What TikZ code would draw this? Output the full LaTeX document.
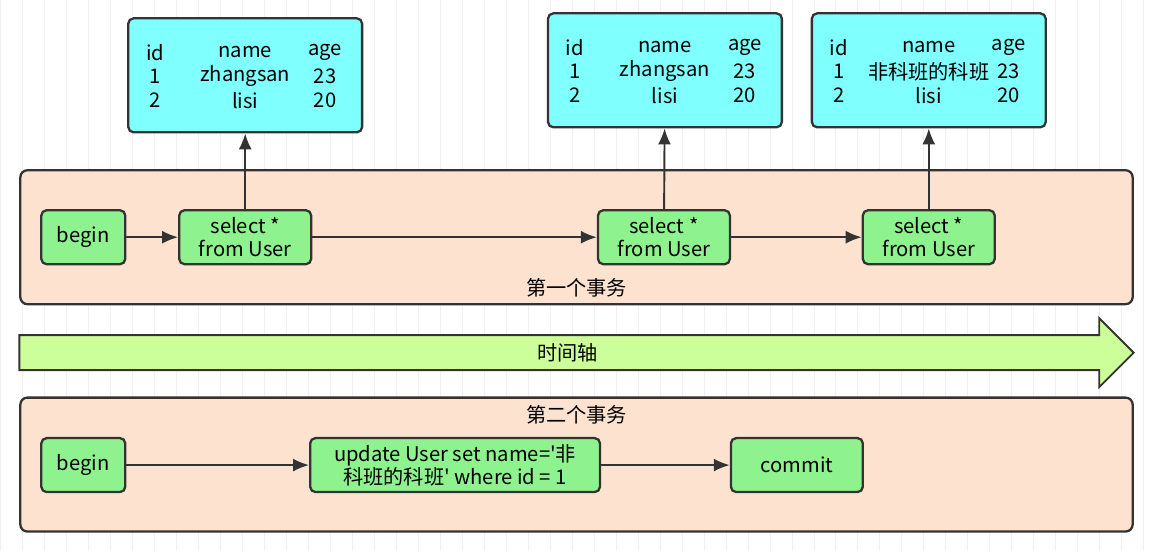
\documentclass[tikz,border=0pt]{standalone}
\usepackage{fontspec}
\setmainfont{Noto Sans CJK SC}
\usetikzlibrary{positioning,shapes.arrows,arrows.meta,calc}
\definecolor{tblcyan}{HTML}{80FFFF}
\definecolor{peach}{HTML}{FDE3CF}
\definecolor{stepgreen}{HTML}{8EF28E}
\definecolor{timegreen}{HTML}{CCFF99}
\definecolor{edge}{HTML}{333333}
\tikzset{
  stepbox/.style={draw=edge,line width=1.3pt,rounded corners=3pt,fill=stepgreen,minimum height=1.08cm,align=center,font=\fontsize{11.5}{13}\selectfont},
  tablebox/.style={draw=edge,line width=1.3pt,rounded corners=3pt,fill=tblcyan,minimum width=4.68cm,minimum height=2.28cm},
  phase/.style={draw=edge,line width=1.3pt,rounded corners=4pt,fill=peach,minimum width=22.26cm,minimum height=2.68cm},
  link/.style={-{Latex[length=3.2mm,width=2.6mm]},line width=1.1pt,draw=edge},
  cell/.style={font=\fontsize{11.5}{12}\selectfont}
}
\newcommand{\usertable}[2]{%
  \node[cell] at ($(#1)+(-1.8,-0.46)$) {id};
  \node[cell] at ($(#1)+(0,-0.46)$) {name};
  \node[cell] at ($(#1)+(1.6,-0.46)$) {age};
  \node[cell] at ($(#1)+(-1.8,0.02)$) {1};
  \node[cell] at ($(#1)+(0,0.02)$) {#2};
  \node[cell] at ($(#1)+(1.6,0.02)$) {23};
  \node[cell] at ($(#1)+(-1.8,0.5)$) {2};
  \node[cell] at ($(#1)+(0,0.5)$) {lisi};
  \node[cell] at ($(#1)+(1.6,0.5)$) {20};
}
\begin{document}
\begin{tikzpicture}[x=1cm,y=-1cm]
\fill[white] (0,0) rectangle (23,11.02);
\draw[black!6,step=0.44] (0,0) grid (23,11.02);
\useasboundingbox (0,0) rectangle (23,11.02);
% tables
\node[tablebox] (t1) at (4.9,1.5) {};
\node[tablebox] (t2) at (13.3,1.4) {};
\node[tablebox] (t3) at (18.58,1.4) {};
\usertable{t1}{zhangsan}
\usertable{t2}{zhangsan}
\usertable{t3}{非科班的科班}
% first transaction
\node[phase] (tx1) at (11.53,4.74) {};
\node[cell] at (11.53,5.76) {第一个事务};
\node[stepbox,minimum width=1.68cm] (b1) at (1.66,4.74) {begin};
\node[stepbox,minimum width=2.64cm] (s1) at (4.9,4.74) {select *\\from User};
\node[stepbox,minimum width=2.64cm] (s2) at (13.28,4.74) {select *\\from User};
\node[stepbox,minimum width=2.64cm] (s3) at (18.58,4.74) {select *\\from User};
\draw[link] (b1) -- (s1);
\draw[link] (s1) -- (s2);
\draw[link] (s2) -- (s3);
\draw[link] (s1) -- (t1);
\draw[link] (s2) -- (t2);
\draw[link] (s3) -- (t3);
% time axis
\node[single arrow,draw=edge,line width=1.1pt,fill=timegreen,minimum width=1.38cm,minimum height=22.3cm,single arrow head extend=0.2cm,single arrow tip angle=90,inner sep=0pt,anchor=west,font=\fontsize{11.5}{12}\selectfont] (axis) at (0.36,7.05) {时间轴};
% second transaction
\node[phase] (tx2) at (11.53,9.29) {};
\node[cell] at (11.53,8.3) {第二个事务};
\node[stepbox,minimum width=1.68cm] (b2) at (1.66,9.3) {begin};
\node[stepbox,minimum width=5.8cm] (u) at (9.1,9.3) {update User set name=\textquotesingle 非\\科班的科班\textquotesingle{} where id = 1};
\node[stepbox,minimum width=2.64cm] (c) at (15.94,9.3) {commit};
\draw[link] (b2) -- (u);
\draw[link] (u) -- (c);
\end{tikzpicture}
\end{document}
